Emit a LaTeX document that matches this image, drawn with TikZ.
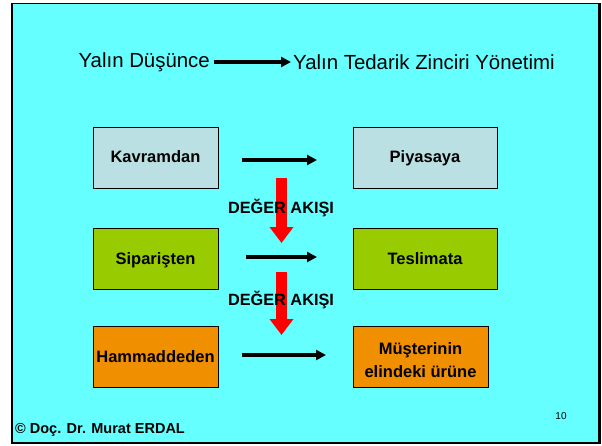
\documentclass[tikz,border=0pt]{standalone}
\usepackage{fontspec}
\setmainfont{Liberation Sans}
\usetikzlibrary{arrows.meta}
\definecolor{slidebg}{RGB}{102,255,255}
\definecolor{paleblue}{RGB}{187,224,227}
\definecolor{limegreen}{RGB}{153,204,0}
\definecolor{deeporange}{RGB}{240,144,0}
\newcommand{\boxstrut}{\rule[-6pt]{0pt}{22pt}}
\begin{document}
\begin{tikzpicture}[x=1pt,y=-1pt,
  stagebox/.style={draw=black,line width=1pt,minimum height=61pt,inner sep=0pt,
    font=\fontsize{16.5}{23}\selectfont\bfseries,align=center},
  onelinebox/.style={stagebox,execute at begin node=\boxstrut},
  flowarrow/.style={line width=3.4pt,-{Triangle[length=10pt,width=10pt]}},
  valuearrow/.style={draw=red,line width=11pt,-{Triangle[length=16pt,width=23pt]}},
  flowlabel/.style={font=\fontsize{16.3}{18}\selectfont\bfseries,inner sep=0pt}]
\useasboundingbox (0,0) rectangle (602,445);
% slide background and frame
\fill[white] (0,0) rectangle (602,445);
\draw[fill=slidebg,line width=1.2pt] (12,3.5) rectangle (599,443);
\draw[line width=2.5pt] (599.5,3) -- (599.5,443.5);

% heading
\node[font=\fontsize{20.4}{24}\selectfont,anchor=east,inner sep=0pt] (thought) at (210,62) {Yalın Düşünce};
\node[font=\fontsize{20.4}{24}\selectfont,anchor=west,inner sep=0pt] (supply) at (293,62) {Yalın Tedarik Zinciri Yönetimi};
\draw[flowarrow] ([xshift=4pt]thought.east) -- ([xshift=-2pt]supply.west);

% stage boxes
\node[onelinebox,fill=paleblue,minimum width=125pt] (kav) at (155.5,157.5) {Kavramdan};
\node[onelinebox,fill=paleblue,minimum width=144pt] (piy) at (425,157.5) {Piyasaya};
\node[onelinebox,fill=limegreen,minimum width=125pt] (sip) at (155.5,259) {Siparişten};
\node[onelinebox,fill=limegreen,minimum width=144pt] (tes) at (425,259) {Teslimata};
\node[onelinebox,fill=deeporange,minimum width=125pt] (ham) at (155.5,357) {Hammaddeden};
\node[stagebox,fill=deeporange,minimum width=135pt] (mus) at (420.5,357) {\rule{0pt}{19pt}Müşterinin\\elindeki ürüne};

% horizontal flow arrows
\coordinate (a1s) at (242,160); \coordinate (a1e) at (317,160);
\coordinate (a2s) at (246,257); \coordinate (a2e) at (317,257);
\coordinate (a3s) at (242,355); \coordinate (a3e) at (326,355);
\draw[flowarrow] (a1s) -- (a1e);
\draw[flowarrow] (a2s) -- (a2e);
\draw[flowarrow] (a3s) -- (a3e);

% value stream arrows
\coordinate (v1s) at (281.5,178); \coordinate (v1e) at (281.5,243);
\coordinate (v2s) at (281.5,272); \coordinate (v2e) at (281.5,335);
\draw[valuearrow] (v1s) -- (v1e);
\draw[valuearrow] (v2s) -- (v2e);
\node[flowlabel] (lab1) at (281,208) {DEĞER AKIŞI};
\node[flowlabel] (lab2) at (281,300) {DEĞER AKIŞI};

% footer
\node[font=\fontsize{14.5}{17}\selectfont\bfseries,anchor=west,inner sep=0pt] (author) at (15,430) {© Doç. Dr. Murat ERDAL};
\node[font=\fontsize{10}{12}\selectfont,inner sep=0pt] (page) at (561,416) {10};
\end{tikzpicture}
\end{document}
